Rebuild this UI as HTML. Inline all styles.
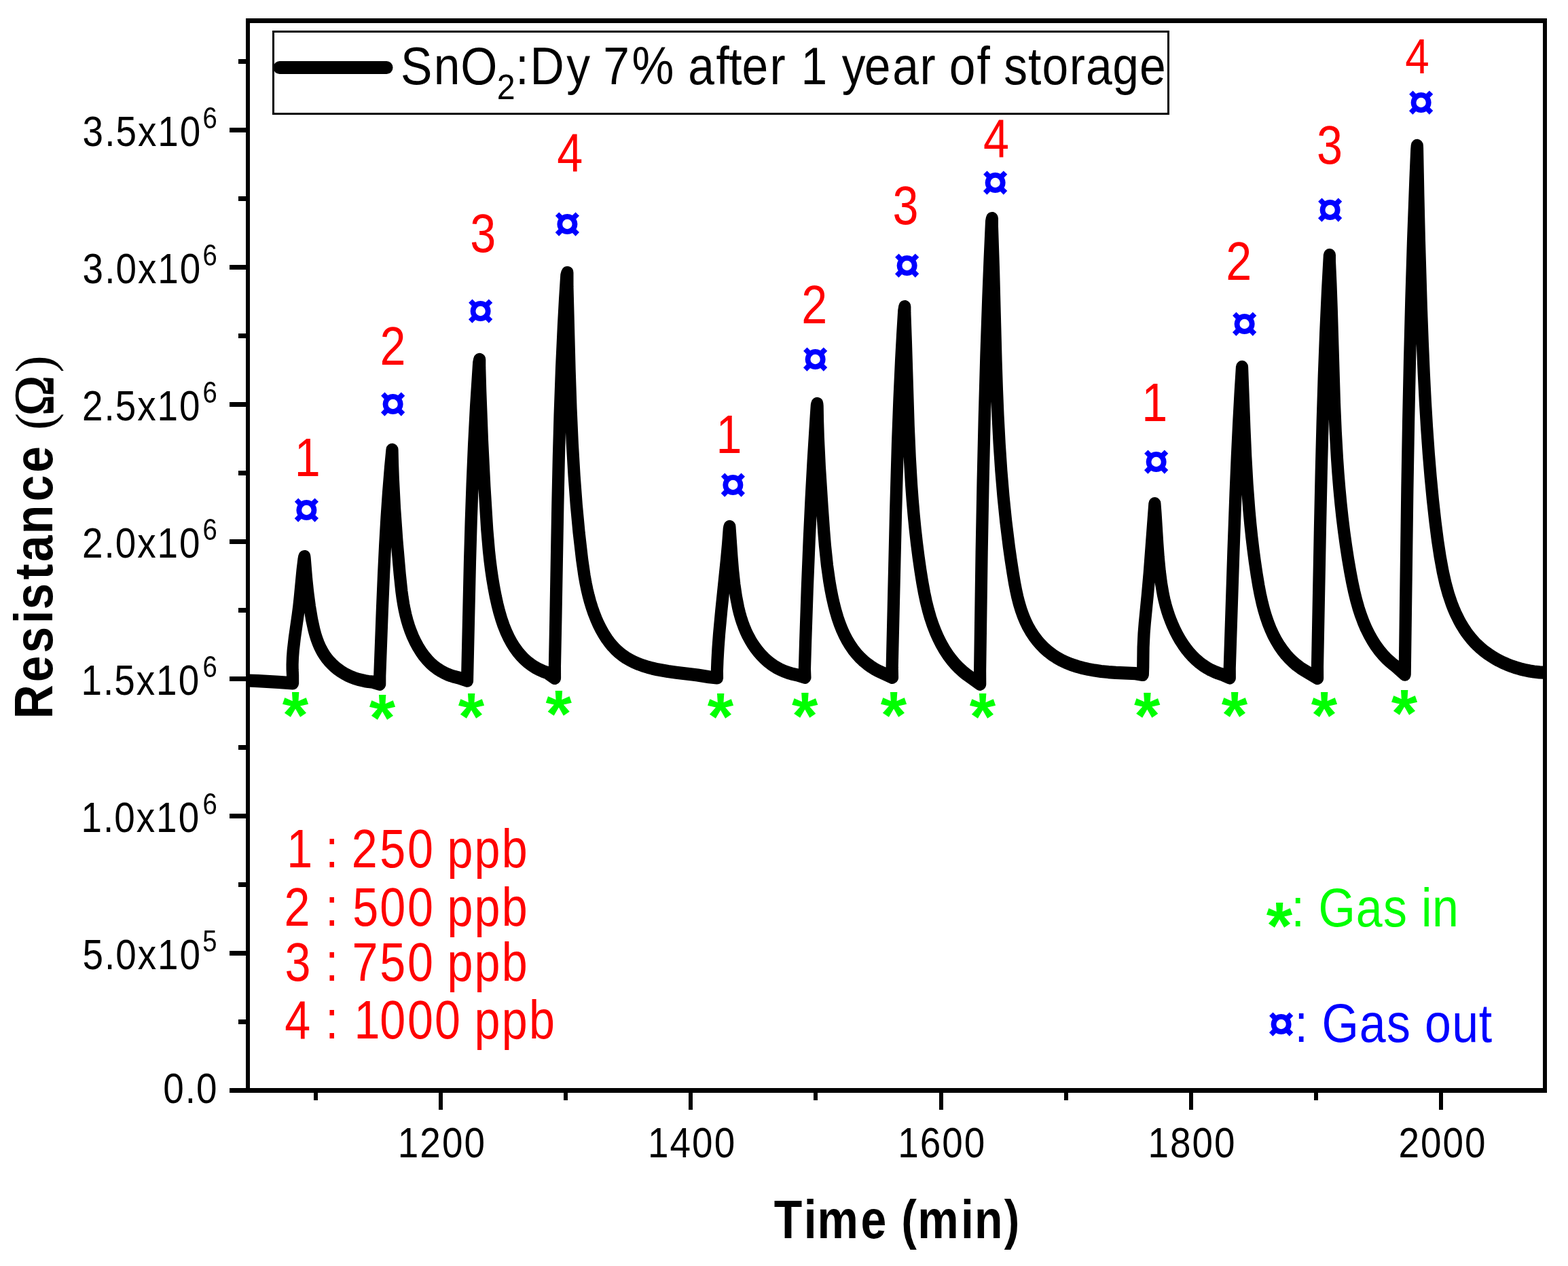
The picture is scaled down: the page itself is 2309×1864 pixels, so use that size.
<!DOCTYPE html>
<html lang="en"><head><meta charset="utf-8"><title>SnO2:Dy 7% resistance vs time</title>
<style>html,body{margin:0;padding:0;background:#fff}body{width:2309px;height:1864px;overflow:hidden}</style>
</head><body>
<svg xmlns="http://www.w3.org/2000/svg" width="2309" height="1864" viewBox="0 0 2309 1864" font-family='"Liberation Sans", Arial, sans-serif' style="display:block">
<rect width="2309" height="1864" fill="#fff"/>
<defs><clipPath id="plot"><rect x="365" y="30" width="1910" height="1576"/></clipPath></defs>
<g clip-path="url(#plot)"><path transform="scale(1 1.055)" d="M355 949.38 380 950.33 410 951.94 431.1 953.46 431.06 942.47 430.65 934.86 430.59 927.25 430.95 917.67 431.71 908 433.84 890.39 438.66 858.44 440.33 846.26 441.71 834.07 445.52 796.17 447.54 780.42 448.3 776.78 448.62 778.98 451.11 807.62 453.26 827.02 455.99 846.51 459.22 864.82 462.43 878.82 464.2 885.02 466.24 891.17 468.59 897.22 470.59 901.68 472.82 906.05 475.28 910.32 478.01 914.45 481 918.41 484.21 922.18 488.84 926.88 492.54 930.15 497.76 934.19 501.87 936.96 507.59 940.3 512.04 942.54 516.62 944.55 521.31 946.31 527.69 948.28 537.5 950.45 542.48 951.2 549.1 951.83 559.2 954.79 559.24 943.4 562.87 851.41 565.06 801.47 567.23 759.54 569.55 721.64 571.99 687.74 575.04 651.87 577.5 627.77 577.97 646.24 578.76 667.03 581.06 709.18 584.43 754.7 588.72 801.44 591.4 825.42 592.69 834.44 594.23 843.46 595.74 850.97 597.52 858.47 599.58 865.96 601.97 873.43 604.73 880.86 607.89 888.26 611.47 895.55 615.5 902.67 620 909.53 623.96 914.79 629.38 921 634.12 925.62 639.22 929.87 644.64 933.7 648.92 936.28 654.88 939.33 659.54 941.32 664.35 943.05 669.32 944.52 676.08 946.06 688 949.95 691.98 784.07 693.68 728.12 695.59 676.19 698.11 620.27 700.98 568.37 705.18 506.5 706.2 501.8 706.21 512.34 707.21 545.46 709.98 614.57 713.36 679.02 717.26 738.9 719.96 768.96 721.51 782.52 723.34 796.11 725.22 808.2 727.38 820.3 729.86 832.42 732.33 843.05 735.15 853.67 738.42 864.21 741.65 873.11 745.33 881.82 749.53 890.3 753.47 897.14 757.84 903.73 762.7 910.05 766.96 914.85 771.57 919.4 776.54 923.65 781.9 927.58 787.64 931.14 793.77 934.29 800.29 937 805.36 938.7 817 946.45 816.93 929.98 818.34 863.94 821.31 705.95 822.87 638 824.55 580.06 827.02 514.15 829.93 454.26 832.02 418.33 834.29 384.4 835.4 380.57 835.42 399.86 838.61 516.89 840.53 570.82 842.8 618.81 845.59 663.94 848.8 704.66 852.65 743.79 857.18 781.15 860.6 803.56 862.58 814.03 864.55 823 866.81 831.97 868.94 839.43 871.85 848.38 874.59 855.81 877.65 863.22 881.05 870.55 884.81 877.74 888.95 884.73 893.51 891.46 897.47 896.62 901.73 901.52 906.31 906.14 911.2 910.44 916.4 914.35 921.81 917.86 927.43 920.99 933.2 923.77 940.59 926.8 946.62 928.9 954.26 931.16 960.42 932.71 968.16 934.38 983.62 936.98 995.91 938.58 1027.23 942.2 1044.19 944.73 1056 945.97 1055.91 935.83 1056.46 921.99 1057.52 904.17 1059.08 884.34 1062.2 852.5 1070.08 780.47 1072.19 758.35 1073.8 738.19 1074.4 734.98 1077.5 777.49 1079.08 795.83 1081.36 815.82 1083.94 832.68 1087.07 847.91 1089.01 855.45 1090.78 861.44 1093.29 868.85 1095.57 874.71 1098.1 880.5 1100.91 886.2 1104.85 893.19 1108.33 898.63 1112.12 903.92 1116.21 909 1120.6 913.86 1125.29 918.45 1130.27 922.74 1135.56 926.69 1139.72 929.41 1144.05 931.9 1148.51 934.14 1154.65 936.72 1162.58 939.37 1167.46 940.67 1174.06 942.08 1185.4 945.4 1184.92 933.55 1186.12 895.57 1188.78 821.63 1191.78 751.7 1194.59 695.76 1197.58 643.83 1201.67 581.92 1202.83 565.94 1203.3 563.41 1203.65 566.89 1204.05 587.95 1204.81 610.52 1206.85 651.13 1210.7 708.16 1213.18 741.11 1215 762.14 1218 789.26 1221.39 811.92 1223.33 822.51 1225.54 833.11 1228.06 843.72 1230.53 852.79 1233.34 861.78 1236.54 870.65 1240.18 879.34 1243.59 886.41 1247.39 893.3 1251.59 899.96 1256.23 906.36 1261.34 912.45 1266.94 918.2 1271.79 922.53 1276.98 926.59 1282.51 930.36 1288.39 933.81 1293.03 936.19 1314 945.4 1313.68 931.25 1319.07 715.24 1321.99 619.32 1324.43 557.39 1327.15 501.48 1329.09 467.55 1331.28 433.61 1332.3 427.96 1332.36 437.1 1333.84 476.19 1337.72 594.67 1339.71 638.13 1342.13 677.11 1343.76 698.12 1345.66 719.13 1347.69 738.66 1350.01 758.21 1352.64 777.77 1355.37 795.85 1358.16 812.46 1361.09 827.58 1363.8 839.63 1366.93 851.58 1370.08 861.93 1373.67 872.13 1377.76 882.15 1381.7 890.57 1386.1 898.82 1390.98 906.85 1396.39 914.62 1401.33 920.85 1406.68 926.83 1412.48 932.51 1417.43 936.82 1422.69 940.89 1443.2 954.88 1443.1 936.8 1445.62 770.84 1447.56 672.88 1449.76 582.93 1452.41 494.99 1455.41 413.05 1457.61 361.09 1460.06 309.13 1460.9 304.74 1460.91 316.55 1463.03 376.63 1466.55 504.09 1467.9 543.05 1469.45 579.02 1471.69 619.5 1474.34 657.01 1477.52 693.04 1481.25 727.6 1485.95 763.7 1488.65 781.76 1491.59 799.84 1494.02 813.47 1496.18 824.08 1498.29 833.15 1500.74 842.15 1503.57 851.05 1506.88 859.81 1510.04 866.96 1513.62 873.96 1517.66 880.78 1522.18 887.36 1527.17 893.65 1531.48 898.44 1537.26 904.08 1543.46 909.31 1550.05 914.07 1555.58 917.5 1562.73 921.31 1570.09 924.62 1577.63 927.48 1586.86 930.36 1594.65 932.36 1602.49 934.02 1611.94 935.64 1621.37 936.9 1632.31 937.98 1643.08 938.76 1672.33 940 1682.8 941.61 1683.22 931.01 1683.6 903.28 1684.59 883.65 1685.76 869.86 1689.91 829.89 1692.71 799.79 1700.4 702.84 1701.52 716.52 1704.25 758.19 1705.77 777.94 1707.77 797.76 1710.05 814.53 1712.84 829.74 1714.58 837.31 1716.59 844.85 1718.89 852.33 1721.49 859.73 1724.39 867.04 1726.92 872.81 1730.38 879.93 1734.17 886.93 1738.3 893.75 1742.81 900.34 1747.69 906.68 1751.89 911.53 1756.35 916.16 1761.08 920.54 1766.09 924.64 1771.39 928.44 1776.99 931.9 1781.37 934.26 1789.05 937.71 1793.88 939.47 1798.79 940.96 1810.8 945.97 1810.73 932.46 1816.37 770.46 1819.54 688.51 1821.76 638.56 1824.08 592.62 1826.71 546.69 1829 512.23 1832.41 597.84 1834.22 636.78 1836.55 675.68 1839.39 711.61 1841.27 731.1 1843.26 749.12 1845.52 767.17 1847.84 783.76 1850.67 801.89 1853.33 817.08 1855.77 829.24 1858.6 841.35 1861.47 851.85 1864.29 860.73 1867.47 869.49 1871.08 878.08 1875.15 886.47 1878.94 893.29 1883.99 901.22 1888.66 907.6 1893.78 913.73 1898.21 918.41 1904.2 923.96 1909.36 928.13 1914.85 932.02 1919.2 934.75 1940.1 946.45 1940 930.53 1943.91 738.52 1945.73 658.56 1947.64 588.61 1949.76 524.66 1952.17 464.73 1954.97 406.81 1957.9 356.02 1957.9 364.24 1959.41 395.74 1960.78 431.72 1964.94 562.11 1966.76 602.57 1969 640.05 1970.55 661.05 1972.36 682.04 1974.45 703.05 1976.67 722.55 1979.19 742.07 1982.04 761.59 1984.97 779.61 1988.22 797.63 1991.22 812.7 1994.29 826.24 1997.42 838.22 2000.53 848.59 2004.07 858.84 2008.08 868.92 2011.95 877.4 2016.27 885.69 2021.06 893.78 2025.46 900.33 2031.27 907.91 2036.58 913.93 2041.15 918.52 2044.78 921.81 2049.88 925.97 2053.86 928.87 2068.7 941.42 2072.38 682.44 2074.1 588.47 2075.97 504.51 2078.3 418.56 2080.99 336.61 2084.47 248.68 2086.29 208.71 2086.8 203.22 2087.01 206.48 2088.4 274.19 2089.87 334.27 2092.83 428.75 2094.72 476.7 2096.77 521.64 2098.85 560.61 2101.11 596.6 2103.79 632.62 2106.67 665.67 2109.87 697.25 2113.56 728.85 2117.05 754.46 2120.67 776.97 2124.69 797.87 2128.57 814.24 2132.89 829.06 2137.59 842.28 2140.58 849.52 2143.18 855.25 2148.96 866.43 2152.17 871.86 2155.59 877.16 2159.25 882.32 2163.14 887.31 2167.28 892.13 2171.67 896.75 2175.13 900.07 2179.95 904.29 2184.97 908.26 2190.18 911.98 2195.56 915.46 2201.11 918.7 2206.8 921.7 2212.63 924.46 2218.56 926.97 2226.13 929.78 2232.27 931.75 2238.48 933.48 2244.75 934.97 2252.64 936.49 2258.98 937.43 2266.91 938.26 2273.25 938.65 2279.57 938.79" fill="none" stroke="#000" stroke-width="18.2" stroke-linejoin="round" stroke-linecap="round"/></g>
<g shape-rendering="crispEdges">
<rect x="362" y="27" width="1916" height="7" fill="#000"/>
<rect x="362" y="1602" width="1916" height="7" fill="#000"/>
<rect x="362" y="27" width="6" height="1582" fill="#000"/>
<rect x="2272" y="27" width="6" height="1582" fill="#000"/>
<rect x="338" y="1602" width="25" height="7" fill="#000"/>
<rect x="351" y="1501" width="12" height="7" fill="#000"/>
<rect x="338" y="1400" width="25" height="7" fill="#000"/>
<rect x="351" y="1299" width="12" height="7" fill="#000"/>
<rect x="338" y="1198" width="25" height="7" fill="#000"/>
<rect x="351" y="1097" width="12" height="7" fill="#000"/>
<rect x="338" y="996" width="25" height="7" fill="#000"/>
<rect x="351" y="895" width="12" height="7" fill="#000"/>
<rect x="338" y="794" width="25" height="7" fill="#000"/>
<rect x="351" y="693" width="12" height="7" fill="#000"/>
<rect x="338" y="592" width="25" height="7" fill="#000"/>
<rect x="351" y="491" width="12" height="7" fill="#000"/>
<rect x="338" y="390" width="25" height="7" fill="#000"/>
<rect x="351" y="289" width="12" height="7" fill="#000"/>
<rect x="338" y="188" width="25" height="7" fill="#000"/>
<rect x="351" y="87" width="12" height="7" fill="#000"/>
<rect x="462" y="1608" width="6" height="12" fill="#000"/>
<rect x="646" y="1608" width="6" height="26" fill="#000"/>
<rect x="830" y="1608" width="6" height="12" fill="#000"/>
<rect x="1014" y="1608" width="6" height="26" fill="#000"/>
<rect x="1198" y="1608" width="6" height="12" fill="#000"/>
<rect x="1383" y="1608" width="6" height="26" fill="#000"/>
<rect x="1567" y="1608" width="6" height="12" fill="#000"/>
<rect x="1751" y="1608" width="6" height="26" fill="#000"/>
<rect x="1935" y="1608" width="6" height="12" fill="#000"/>
<rect x="2119" y="1608" width="6" height="26" fill="#000"/>
</g>
<text transform="translate(240.24 1624.2) scale(0.86 1)" x="0 37.83 56.73" y="0" font-size="63.8" fill="#000">0.0</text>
<text transform="translate(121.5 1427.4) scale(0.86 1)" x="0 37.83 56.73 94.57 128.58 166.42" y="0" font-size="63.8" fill="#000">5.0x10</text>
<text transform="translate(298.32 1401.1) scale(0.86 1)" x="0" y="0" font-size="44.5" fill="#000">5</text>
<text transform="translate(119.52 1225.4) scale(0.86 1)" x="0 37.83 56.73 94.57 128.58 166.42" y="0" font-size="63.8" fill="#000">1.0x10</text>
<text transform="translate(298.4 1199.1) scale(0.86 1)" x="0" y="0" font-size="44.5" fill="#000">6</text>
<text transform="translate(119.52 1023.4) scale(0.86 1)" x="0 37.83 56.73 94.57 128.58 166.42" y="0" font-size="63.8" fill="#000">1.5x10</text>
<text transform="translate(298.4 997.1) scale(0.86 1)" x="0" y="0" font-size="44.5" fill="#000">6</text>
<text transform="translate(120.94 821.4) scale(0.86 1)" x="0 37.83 56.73 94.57 128.58 166.42" y="0" font-size="63.8" fill="#000">2.0x10</text>
<text transform="translate(298.4 795.1) scale(0.86 1)" x="0" y="0" font-size="44.5" fill="#000">6</text>
<text transform="translate(120.94 619.4) scale(0.86 1)" x="0 37.83 56.73 94.57 128.58 166.42" y="0" font-size="63.8" fill="#000">2.5x10</text>
<text transform="translate(298.4 593.1) scale(0.86 1)" x="0" y="0" font-size="44.5" fill="#000">6</text>
<text transform="translate(121.61 417.4) scale(0.86 1)" x="0 37.83 56.73 94.57 128.58 166.42" y="0" font-size="63.8" fill="#000">3.0x10</text>
<text transform="translate(298.4 391.1) scale(0.86 1)" x="0" y="0" font-size="44.5" fill="#000">6</text>
<text transform="translate(121.61 215.4) scale(0.86 1)" x="0 37.83 56.73 94.57 128.58 166.42" y="0" font-size="63.8" fill="#000">3.5x10</text>
<text transform="translate(298.4 189.1) scale(0.86 1)" x="0" y="0" font-size="44.5" fill="#000">6</text>
<text transform="translate(585.83 1704) scale(0.86 1)" x="0 37.83 75.67 113.5" y="0" font-size="63.8" fill="#000">1200</text>
<text transform="translate(954.05 1704) scale(0.86 1)" x="0 37.83 75.67 113.5" y="0" font-size="63.8" fill="#000">1400</text>
<text transform="translate(1322.27 1704) scale(0.86 1)" x="0 37.83 75.67 113.5" y="0" font-size="63.8" fill="#000">1600</text>
<text transform="translate(1690.5 1704) scale(0.86 1)" x="0 37.83 75.67 113.5" y="0" font-size="63.8" fill="#000">1800</text>
<text transform="translate(2059.43 1704) scale(0.86 1)" x="0 37.83 75.67 113.5" y="0" font-size="63.8" fill="#000">2000</text>
<text transform="translate(1139.83 1823) scale(0.86 1)" x="0 50.99 74.18 148.4 194.83 218.02 245.82 320.04 343.23 394.22" y="0" font-size="79" fill="#000" font-weight="bold">Time (min)</text>
<text transform="translate(77 1060) rotate(-90) scale(0.88 1)" x="1.68 63.35 111.95 161.38 184.67 234.65 264.81 311 365.64 413.81" y="0" font-size="79" fill="#000" font-weight="bold">Resistance</text>
<text transform="translate(77 1060) rotate(-90) scale(0.95 1)" x="449.58" y="0" font-size="79" fill="#000" font-family='"Liberation Serif", "Times New Roman", serif'>(</text>
<text transform="translate(77.6 1060) rotate(-90) scale(0.96 1)" x="466.58" y="0" font-size="83" fill="#000" font-family='"Liberation Serif", "Times New Roman", serif' stroke="#000" stroke-width="1.6" stroke-linejoin="round">Ω</text>
<text transform="translate(77 1060) rotate(-90) scale(0.95 1)" x="538.51" y="0" font-size="79" fill="#000" font-family='"Liberation Serif", "Times New Roman", serif'>)</text>
<rect x="402.5" y="46.5" width="1318" height="121" fill="none" stroke="#000" stroke-width="3" shape-rendering="crispEdges"/>
<line transform="scale(1 1.055)" x1="411.6" y1="94.31" x2="569.4" y2="94.31" stroke="#000" stroke-width="18.2" stroke-linecap="round"/>
<text transform="translate(590.06 124.4) scale(0.9 1)" x="0 54.02 98.06" y="0" font-size="77.3" fill="#000">SnO</text>
<text transform="translate(731.67 145.5) scale(0.93 1)" x="0" y="0" font-size="52" fill="#000">2</text>
<text transform="translate(759.18 124.4) scale(0.9 1)" x="0 23.73 83.52 118.06 143.32 190.45 251.88 282.43 328.09 348.9 370.25 415.89 438.9 467.09 505.52 534.02 570.7 616.62 661.37 684.38 709.4 754.68 773.88 798.98 838.63 861.47 906.28 933.16 976.66 1020.87" y="0" font-size="77.3" fill="#000">:Dy 7% after 1 year of storage</text>
<text transform="translate(422.2 1276.6) scale(0.86 1)" x="0 41.08 66.36 86.88 111.24 159.26 206.78 247.86 274.88 321.4 368.14" y="0" font-size="79.4" fill="#ff0000">1 : 250 ppb</text>
<text transform="translate(418.57 1362.5) scale(0.86 1)" x="0 41.08 70.58 91.1 116.98 163.57 211.01 252.09 279.11 325.62 372.36" y="0" font-size="79.4" fill="#ff0000">2 : 500 ppb</text>
<text transform="translate(419.4 1444.4) scale(0.86 1)" x="0 41.08 69.61 90.13 115.12 162.52 210.04 251.12 278.14 324.65 371.39" y="0" font-size="79.4" fill="#ff0000">3 : 750 ppb</text>
<text transform="translate(419.13 1529.3) scale(0.86 1)" x="0 41.08 69.92 90.44 118.91 162.91 210.35 256.86 297.94 324.96 371.7 418.45" y="0" font-size="79.4" fill="#ff0000">4 : 1000 ppb</text>
<text transform="translate(433.8 701) scale(0.86 1)" x="0" y="0" font-size="79.4" fill="#ff0000">1</text>
<text transform="translate(559.57 536.9) scale(0.86 1)" x="0" y="0" font-size="79.4" fill="#ff0000">2</text>
<text transform="translate(692.2 371.2) scale(0.86 1)" x="0" y="0" font-size="79.4" fill="#ff0000">3</text>
<text transform="translate(820.13 252) scale(0.86 1)" x="0" y="0" font-size="79.4" fill="#ff0000">4</text>
<text transform="translate(1054.5 666.9) scale(0.86 1)" x="0" y="0" font-size="79.4" fill="#ff0000">1</text>
<text transform="translate(1180.27 476.1) scale(0.86 1)" x="0" y="0" font-size="79.4" fill="#ff0000">2</text>
<text transform="translate(1314.4 330.4) scale(0.86 1)" x="0" y="0" font-size="79.4" fill="#ff0000">3</text>
<text transform="translate(1447.93 231.2) scale(0.86 1)" x="0" y="0" font-size="79.4" fill="#ff0000">4</text>
<text transform="translate(1681.2 619.9) scale(0.86 1)" x="0" y="0" font-size="79.4" fill="#ff0000">1</text>
<text transform="translate(1805.27 412) scale(0.86 1)" x="0" y="0" font-size="79.4" fill="#ff0000">2</text>
<text transform="translate(1939 241.3) scale(0.86 1)" x="0" y="0" font-size="79.4" fill="#ff0000">3</text>
<text transform="translate(2069.14 107.9) scale(0.89 1)" x="0" y="0" font-size="71.5" fill="#ff0000">4</text>
<text x="431.79" y="775.04" font-size="70.6" font-weight="bold" fill="#0000ff">¤</text>
<text x="558.99" y="619.04" font-size="70.6" font-weight="bold" fill="#0000ff">¤</text>
<text x="687.89" y="482.04" font-size="70.6" font-weight="bold" fill="#0000ff">¤</text>
<text x="815.79" y="354.14" font-size="70.6" font-weight="bold" fill="#0000ff">¤</text>
<text x="1059.79" y="737.84" font-size="70.6" font-weight="bold" fill="#0000ff">¤</text>
<text x="1180.89" y="552.94" font-size="70.6" font-weight="bold" fill="#0000ff">¤</text>
<text x="1315.89" y="414.94" font-size="70.6" font-weight="bold" fill="#0000ff">¤</text>
<text x="1445.99" y="292.94" font-size="70.6" font-weight="bold" fill="#0000ff">¤</text>
<text x="1682.89" y="703.94" font-size="70.6" font-weight="bold" fill="#0000ff">¤</text>
<text x="1812.89" y="500.94" font-size="70.6" font-weight="bold" fill="#0000ff">¤</text>
<text x="1938.99" y="333.04" font-size="70.6" font-weight="bold" fill="#0000ff">¤</text>
<text x="2072.89" y="175.04" font-size="70.6" font-weight="bold" fill="#0000ff">¤</text>
<text x="415.8" y="1086.9" font-size="98.7" font-weight="bold" fill="#00ff00">*</text>
<text x="543.7" y="1090.9" font-size="98.7" font-weight="bold" fill="#00ff00">*</text>
<text x="674.7" y="1088.6" font-size="98.7" font-weight="bold" fill="#00ff00">*</text>
<text x="803.6" y="1084.7" font-size="98.7" font-weight="bold" fill="#00ff00">*</text>
<text x="1041.7" y="1088.6" font-size="98.7" font-weight="bold" fill="#00ff00">*</text>
<text x="1165.9" y="1087.9" font-size="98.7" font-weight="bold" fill="#00ff00">*</text>
<text x="1296.7" y="1086.9" font-size="98.7" font-weight="bold" fill="#00ff00">*</text>
<text x="1427.7" y="1088.6" font-size="98.7" font-weight="bold" fill="#00ff00">*</text>
<text x="1669.9" y="1087.9" font-size="98.7" font-weight="bold" fill="#00ff00">*</text>
<text x="1798.7" y="1086.9" font-size="98.7" font-weight="bold" fill="#00ff00">*</text>
<text x="1930.7" y="1086.9" font-size="98.7" font-weight="bold" fill="#00ff00">*</text>
<text x="2048.7" y="1084.1" font-size="98.7" font-weight="bold" fill="#00ff00">*</text>
<text x="1864.7" y="1396.8" font-size="98.7" font-weight="bold" fill="#00ff00">*</text>
<text transform="translate(1901.52 1364.2) scale(0.88 1)" x="0 20.05 45.53 108.08 154.02 190.11 217.51 235.84" y="0" font-size="79.4" fill="#00ff00">: Gas in</text>
<text x="1866.89" y="1531.84" font-size="70.6" font-weight="bold" fill="#0000ff">¤</text>
<text transform="translate(1906.52 1533.8) scale(0.88 1)" x="0 20.05 45.53 108.08 154.02 190.11 217.55 263.23 308.21" y="0" font-size="79.4" fill="#0000ff">: Gas out</text>
</svg>
</body></html>
